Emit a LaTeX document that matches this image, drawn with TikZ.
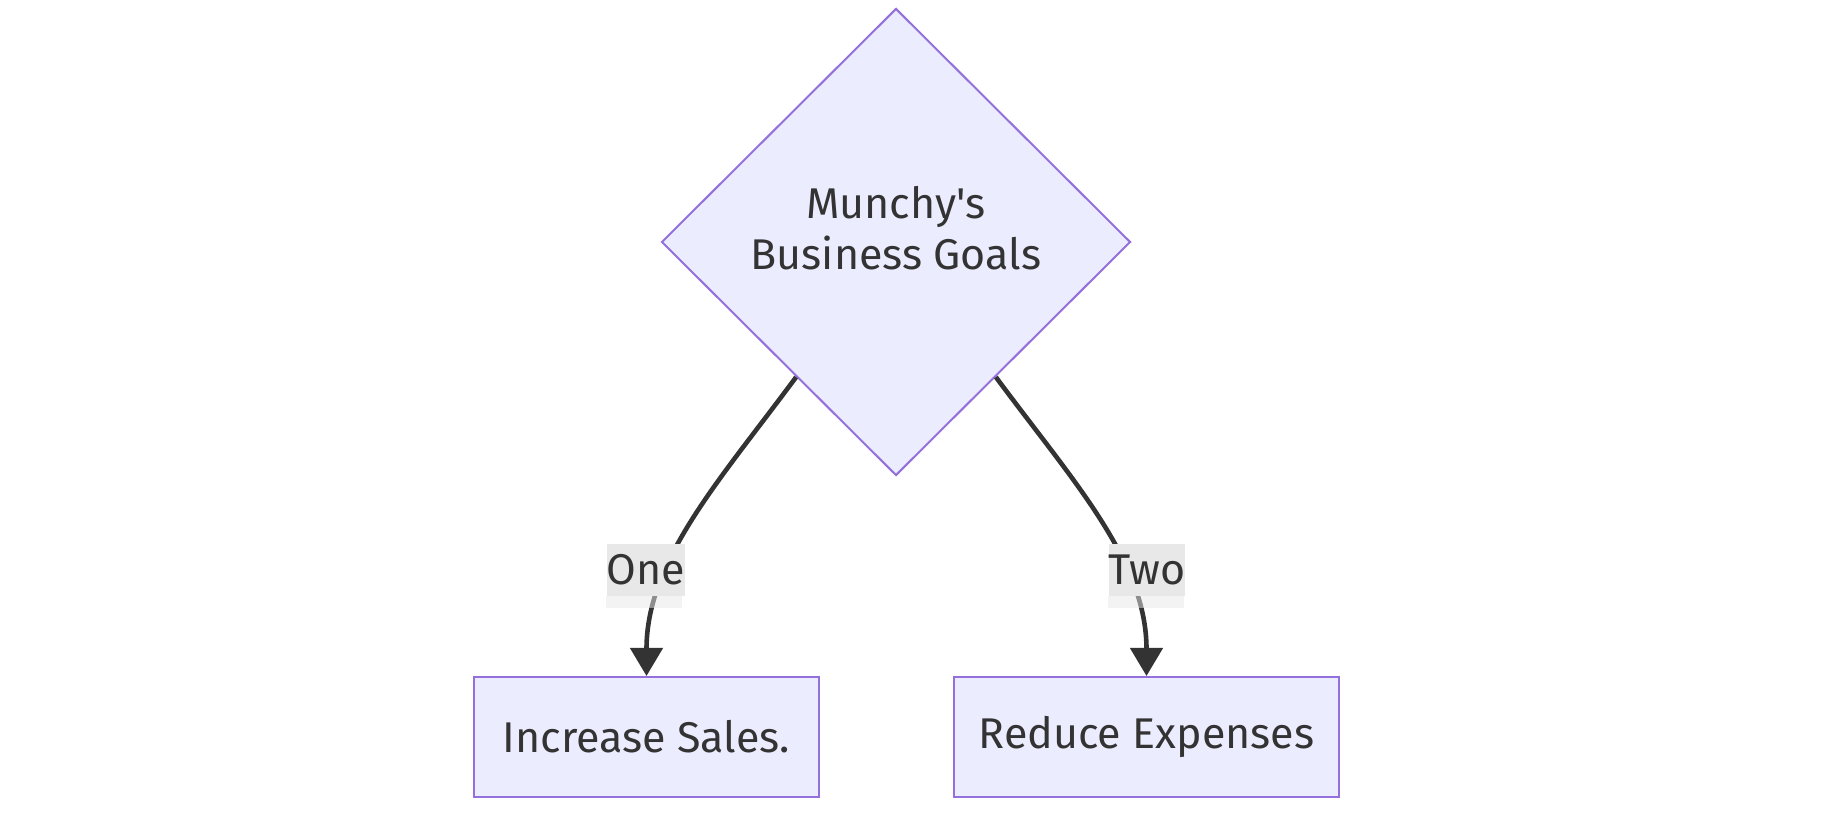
\documentclass[tikz,border=0pt]{standalone}
\usepackage{fontspec}
\setmainfont{Fira Sans}
\usetikzlibrary{shapes.geometric,arrows.meta}
\definecolor{nodefill}{HTML}{ECECFF}
\definecolor{nodeline}{HTML}{9370DB}
\definecolor{edgeline}{HTML}{333333}
\definecolor{labelfill}{HTML}{E8E8E8}
\begin{document}
\begin{tikzpicture}[x=0.5pt,y=-0.5pt,
  font=\fontsize{21.5}{25.5}\selectfont, text=edgeline,
  goal/.style={diamond,draw=nodeline,fill=nodefill,line width=1pt,inner sep=0pt,
    minimum width=234.5pt,minimum height=233.5pt},
  task/.style={rectangle,draw=nodeline,fill=nodefill,line width=1pt,
    minimum height=60pt},
  edge/.style={draw=edgeline,line width=2.3pt,-{Triangle[width=16pt,length=14pt]}},
  tag/.style={fill=labelfill,inner sep=0pt,minimum width=38pt,minimum height=26pt}]
\useasboundingbox (0,0) rectangle (1822,833);

% decision
\node[goal] (G) at (896,242) {};
\node[align=center] (Gt) at ([yshift=7pt]G.center) {Munchy\textquotesingle s\\Business Goals};

% goals
\node[task,minimum width=172.5pt] (L) at (646.5,737) {Increase Sales.};
\node[task,minimum width=192.5pt] (R) at (1146.5,737) {Reduce Expenses};

% edges
\draw[edge] (G) .. controls (720,480) and (646.5,560) .. (L.north);
\draw[edge] (G) .. controls (1072,480) and (1146.5,560) .. (R.north);

% edge labels
\node[tag] (O) at (646,570) {One};
\node[tag] (T) at (1147,570) {Two};
\fill[labelfill,opacity=0.5] (O.south west) rectangle ++(38pt,-6pt);
\fill[labelfill,opacity=0.5] (T.south west) rectangle ++(38pt,-6pt);
\end{tikzpicture}
\end{document}
